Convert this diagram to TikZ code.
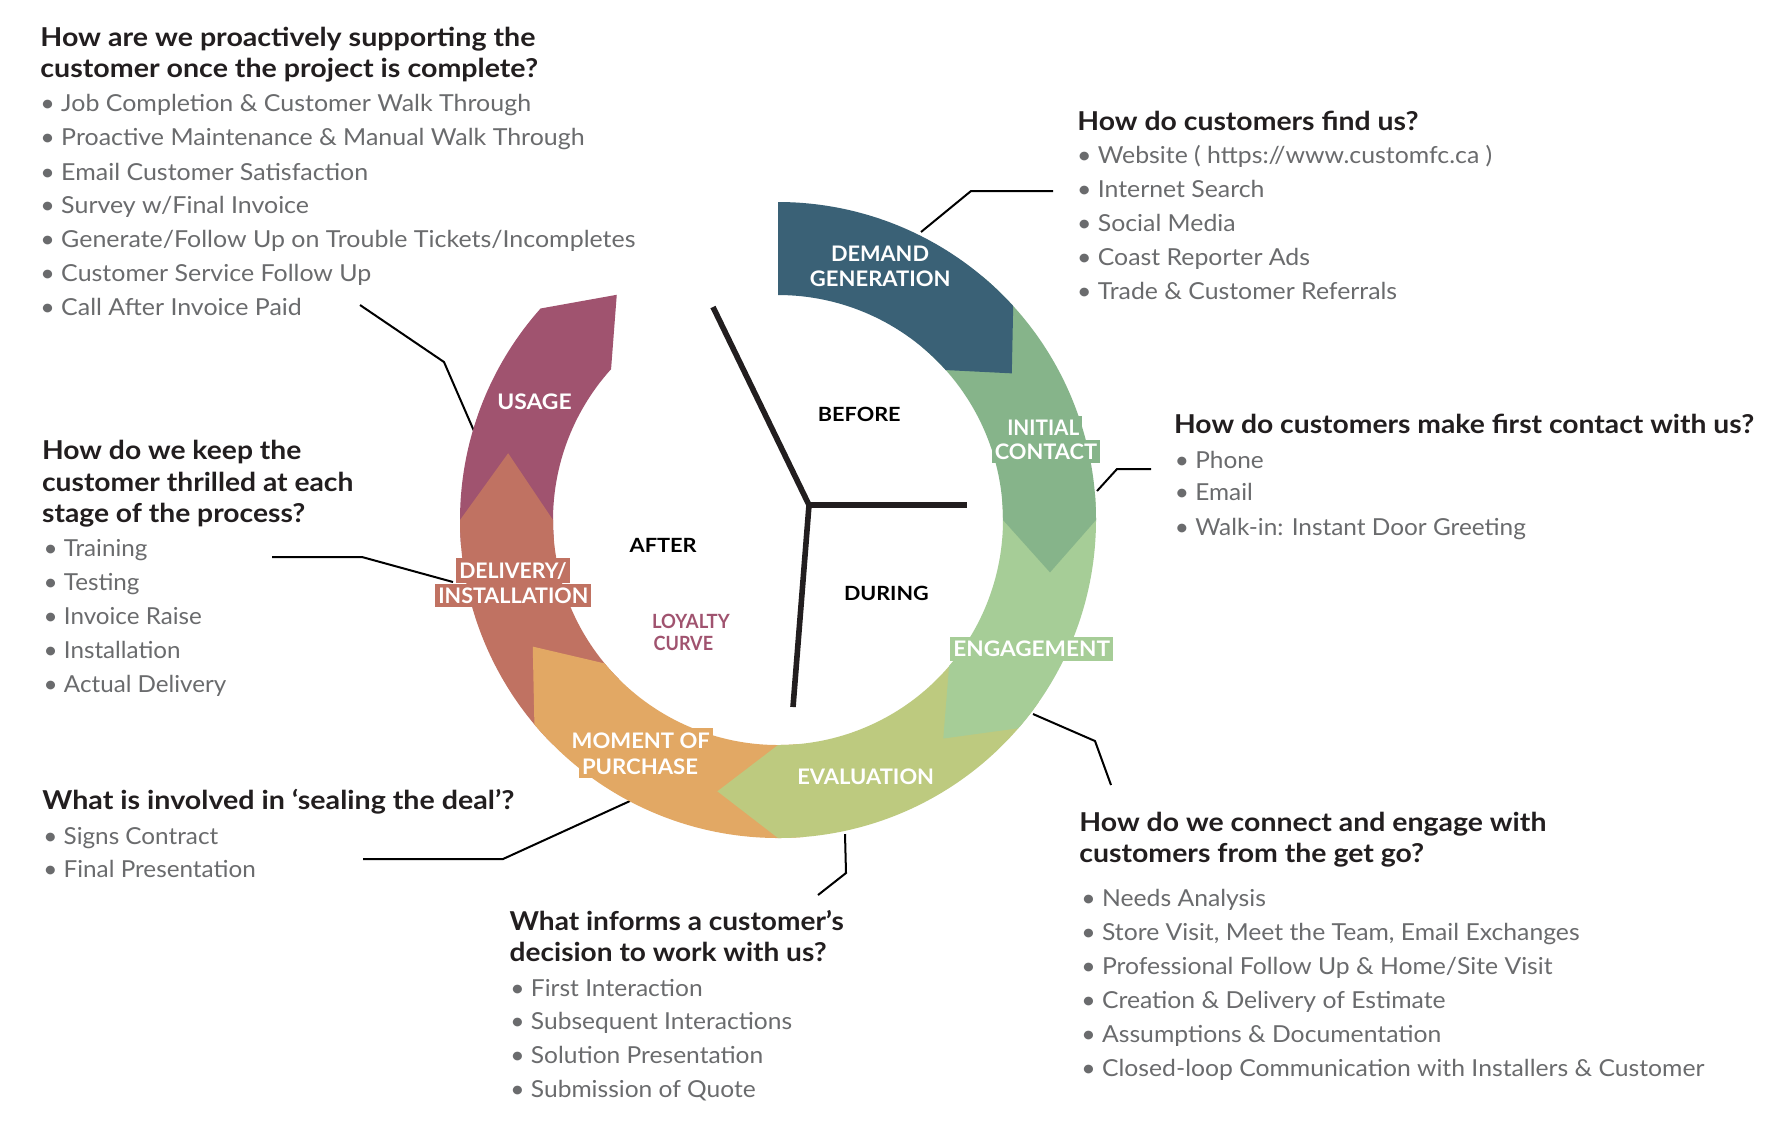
\documentclass[tikz,border=0pt]{standalone}
\usepackage{fontspec}
\setmainfont{Lato}
\usepackage{graphicx}
\definecolor{cDemand}{HTML}{3A6176}
\definecolor{cInit}{HTML}{86B48A}
\definecolor{cEng}{HTML}{A6CD97}
\definecolor{cEval}{HTML}{BDCA7F}
\definecolor{cPurch}{HTML}{E2A864}
\definecolor{cDeliv}{HTML}{C07262}
\definecolor{cUsage}{HTML}{A0536F}
\definecolor{headc}{HTML}{221E1F}
\definecolor{bulc}{HTML}{6A6B6D}
\newcommand\hdF{\fontsize{13}{15}\selectfont\bfseries}
\newcommand\blF{\fontsize{11.7}{14}\selectfont}
\newcommand\rgF{\fontsize{10.7}{12}\selectfont\bfseries}
\newcommand\mdF{\fontsize{9.8}{12}\selectfont\bfseries}
\newlength\fitlen
\newcommand\fit[2]{\settowidth\fitlen{#2}\pgfmathsetmacro\fitsx{#1*0.5/\fitlen}\scalebox{\fitsx}[1]{#2}}
\newcommand\mkscale[3]{\settowidth\fitlen{#3}\pgfmathsetmacro#1{#2*0.5/\fitlen}}
\newcommand\hdline[5]{\node[hd] (#1) at (#2,#3) {\scalebox{#4}[1]{#5}};}
\newcommand\bline[5]{\node[bu] (#1) at (#2,#3) {\scalebox{#4}[1]{• #5}};}
\begin{document}
% block scales
\mkscale\sAh{495}{\hdF How are we proactively supporting the}%
\mkscale\sAb{595}{\blF • Generate/Follow Up on Trouble Tickets/Incompletes}%
\mkscale\sBh{341}{\hdF How do customers find us?}%
\mkscale\sBb{320}{\blF • Trade \& Customer Referrals}%
\mkscale\sCh{580}{\hdF How do customers make first contact with us?}%
\mkscale\sCb{351}{\blF • Walk-in: Instant Door Greeting}%
\mkscale\sDh{311.3}{\hdF customer thrilled at each}%
\mkscale\sDb{182.7}{\blF • Actual Delivery}%
\mkscale\sEh{472}{\hdF What is involved in ‘sealing the deal’?}%
\mkscale\sEb{212.4}{\blF • Final Presentation}%
\mkscale\sFh{334}{\hdF What informs a customer’s}%
\mkscale\sFb{281.7}{\blF • Subsequent Interactions}%
\mkscale\sGh{467}{\hdF How do we connect and engage with}%
\mkscale\sGb{623}{\blF • Closed-loop Communication with Installers \& Customer}%
\begin{tikzpicture}[x=0.5pt,y=-0.5pt,
  hd/.style={anchor=base west, inner sep=0pt, text=headc, font=\hdF},
  bu/.style={anchor=base west, inner sep=0pt, text=bulc, font=\blF},
  rl/.style={anchor=base, inner xsep=1.5pt, inner ysep=2pt, text=white, font=\rgF},
  md/.style={anchor=base, inner sep=0pt, text=black, font=\mdF},
  lc/.style={anchor=base west, inner sep=0pt, text=cUsage, font=\mdF},
  conn/.style={draw=black, line width=1pt},
  spoke/.style={draw=headc, line width=2.8pt}]
\fill[white] (0,0) rectangle (1792,1132);

% connector end points
\coordinate (c1a) at (921,232); \coordinate (c1b) at (971,191); \coordinate (c1c) at (1053,191);
\coordinate (c2a) at (1097,491); \coordinate (c2b) at (1117,469); \coordinate (c2c) at (1151,469);
\coordinate (c3a) at (1033,714); \coordinate (c3b) at (1095,741); \coordinate (c3c) at (1111,785);
\coordinate (c4a) at (845,834); \coordinate (c4b) at (846,873); \coordinate (c4c) at (818,895);
\coordinate (c5a) at (630,801); \coordinate (c5b) at (503,859); \coordinate (c5c) at (363,859);
\coordinate (c6a) at (453,582); \coordinate (c6b) at (362,557); \coordinate (c6c) at (272,557);
\coordinate (c7a) at (474,431); \coordinate (c7b) at (444,362); \coordinate (c7c) at (360,305);
\draw[conn] (c1a) -- (c1b) -- (c1c);
\draw[conn] (c2a) -- (c2b) -- (c2c);
\draw[conn] (c3a) -- (c3b) -- (c3c);
\draw[conn] (c4a) -- (c4b) -- (c4c);
\draw[conn] (c5a) -- (c5b) -- (c5c);
\draw[conn] (c6a) -- (c6b) -- (c6c);
\draw[conn] (c7a) -- (c7b) -- (c7c);

% ring
\begin{scope}[shift={(778,520)}, y=0.5pt]
\fill[cUsage] (185:318) arc[start angle=185, end angle=138.3, radius=318] -- (125.6:277) -- (137.9:225) arc[start angle=137.9, end angle=185, radius=225] -- cycle;
\fill[cDeliv] (225:318) arc[start angle=225, end angle=180, radius=318] -- (166.1:278) -- (180:225) arc[start angle=180, end angle=225, radius=225] -- cycle;
\fill[cPurch] (275:318) arc[start angle=275, end angle=220, radius=318] -- (207.3:276) -- (219.6:225) arc[start angle=219.6, end angle=275, radius=225] -- cycle;
\fill[cEval] (325:318) arc[start angle=325, end angle=270, radius=318] -- (257.4:278) -- (270:225) arc[start angle=270, end angle=325, radius=225] -- cycle;
\fill[cEng] (5:318) arc[start angle=5, end angle=-40.9, radius=318] -- (-52.9:274) -- (-40.5:225) arc[start angle=-40.5, end angle=5, radius=225] -- cycle;
\fill[cInit] (50:318) arc[start angle=50, end angle=0, radius=318] -- (-10.9:277) -- (0:225) arc[start angle=0, end angle=50, radius=225] -- cycle;
\fill[cDemand] (90:318) arc[start angle=90, end angle=42.3, radius=318] -- (32.1:276) -- (41.8:225) arc[start angle=41.8, end angle=90, radius=225] -- cycle;
\end{scope}

% spokes
\coordinate (hub) at (809,505);
\coordinate (sp1) at (713,307);
\coordinate (sp2) at (967,505);
\coordinate (sp3) at (793,707);
\draw[spoke] (sp1) -- (hub) -- (sp3);
\draw[spoke] (hub) -- (sp2);

% ring labels
\node[rl] (lDem1) at (880,261) {\fit{98}{DEMAND}};
\node[rl] (lDem2) at (880.3,286.7) {\fit{140.7}{GENERATION}};
\node[rl, fill=cInit] (lIni1) at (1043.3,435) {\fit{72}{INITIAL}};
\node[rl, fill=cInit] (lIni2) at (1046,459.3) {\fit{102.3}{CONTACT}};
\node[rl, fill=cEng] (lEng) at (1031.7,656.7) {\fit{156.7}{ENGAGEMENT}};
\node[rl] (lEva) at (865.7,784) {\fit{136.7}{EVALUATION}};
\node[rl, fill=cPurch] (lPur1) at (640.8,748) {\fit{138.3}{MOMENT OF}};
\node[rl, fill=cPurch] (lPur2) at (640,774) {\fit{116}{PURCHASE}};
\node[rl, fill=cDeliv] (lDel1) at (513,578.3) {\fit{107.4}{DELIVERY/}};
\node[rl, fill=cDeliv] (lDel2) at (513.3,603.3) {\fit{150}{INSTALLATION}};
\node[rl] (lUsa) at (534.5,409.3) {\fit{74.4}{USAGE}};
\node[md] (mBefore) at (859.3,421.7) {\fit{82.7}{BEFORE}};
\node[md] (mAfter) at (663.2,552) {\fit{67}{AFTER}};
\node[md] (mDuring) at (886.4,600.6) {\fit{84.8}{DURING}};
\node[lc] (mLoy1) at (651.7,628.3) {\fit{77.6}{LOYALTY}};
\node[lc] (mLoy2) at (653.3,650) {\fit{59.4}{CURVE}};

% block A
\hdline{aH1}{40}{46.7}{\sAh}{How are we proactively supporting the}
\hdline{aH2}{40}{77.3}{\sAh}{customer once the project is complete?}
\bline{aB1}{40}{111.7}{\sAb}{Job Completion \& Customer Walk Through}
\bline{aB2}{40}{145.7}{\sAb}{Proactive Maintenance \& Manual Walk Through}
\bline{aB3}{40}{180}{\sAb}{Email Customer Satisfaction}
\bline{aB4}{40}{213.5}{\sAb}{Survey w/Final Invoice}
\bline{aB5}{40}{247}{\sAb}{Generate/Follow Up on Trouble Tickets/Incompletes}
\bline{aB6}{40}{281}{\sAb}{Customer Service Follow Up}
\bline{aB7}{40}{315}{\sAb}{Call After Invoice Paid}
% block B
\hdline{bH1}{1077}{130}{\sBh}{How do customers find us?}
\bline{bB1}{1076.7}{163.3}{\sBb}{Website ( https://www.customfc.ca )}
\bline{bB2}{1076.7}{197.3}{\sBb}{Internet Search}
\bline{bB3}{1076.7}{231.7}{\sBb}{Social Media}
\bline{bB4}{1076.7}{265.7}{\sBb}{Coast Reporter Ads}
\bline{bB5}{1076.7}{299}{\sBb}{Trade \& Customer Referrals}
% block C
\hdline{cH1}{1173.7}{433.3}{\sCh}{How do customers make first contact with us?}
\bline{cB1}{1174.5}{468.3}{\sCb}{Phone}
\bline{cB2}{1174.5}{500.7}{\sCb}{Email}
\bline{cB3}{1174.5}{535}{\sCb}{Walk-in: Instant Door Greeting}
% block D
\hdline{dH1}{41.7}{459.3}{\sDh}{How do we keep the}
\hdline{dH2}{41.7}{491}{\sDh}{customer thrilled at each}
\hdline{dH3}{41.7}{522.7}{\sDh}{stage of the process?}
\bline{dB1}{43.3}{556.7}{\sDb}{Training}
\bline{dB2}{43.3}{590.7}{\sDb}{Testing}
\bline{dB3}{43.3}{624}{\sDb}{Invoice Raise}
\bline{dB4}{43.3}{658.3}{\sDb}{Installation}
\bline{dB5}{43.3}{692.7}{\sDb}{Actual Delivery}
% block E
\hdline{eH1}{42}{809.3}{\sEh}{What is involved in ‘sealing the deal’?}
\bline{eB1}{43}{844}{\sEb}{Signs Contract}
\bline{eB2}{43}{877.3}{\sEb}{Final Presentation}
% block F
\hdline{fH1}{509.3}{930}{\sFh}{What informs a customer’s}
\hdline{fH2}{509.3}{961}{\sFh}{decision to work with us?}
\bline{fB1}{510}{996}{\sFb}{First Interaction}
\bline{fB2}{510}{1029.3}{\sFb}{Subsequent Interactions}
\bline{fB3}{510}{1063.3}{\sFb}{Solution Presentation}
\bline{fB4}{510}{1097.3}{\sFb}{Submission of Quote}
% block G
\hdline{gH1}{1079}{831.7}{\sGh}{How do we connect and engage with}
\hdline{gH2}{1079}{862.7}{\sGh}{customers from the get go?}
\bline{gB1}{1081}{906.7}{\sGb}{Needs Analysis}
\bline{gB2}{1081}{940.7}{\sGb}{Store Visit, Meet the Team, Email Exchanges}
\bline{gB3}{1081}{974}{\sGb}{Professional Follow Up \& Home/Site Visit}
\bline{gB4}{1081}{1008.3}{\sGb}{Creation \& Delivery of Estimate}
\bline{gB5}{1081}{1042.3}{\sGb}{Assumptions \& Documentation}
\bline{gB6}{1081}{1076}{\sGb}{Closed-loop Communication with Installers \& Customer}
\end{tikzpicture}
\end{document}
